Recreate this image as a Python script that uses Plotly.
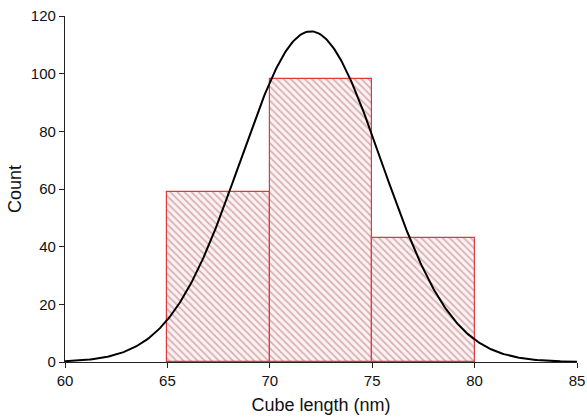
import numpy as np
import plotly.graph_objects as go

bin_starts = [65, 70, 75]
bin_width = 5
counts = [59, 98, 43]

# Gaussian fit parameters
fit_amp = 114.7
fit_mean = 72.0
fit_sigma = 3.45

x_ticks = [60, 65, 70, 75, 80, 85]
y_ticks = [0, 20, 40, 60, 80, 100, 120]

centers = [s + bin_width / 2 for s in bin_starts]
xc = np.linspace(60, 85, 400)
yc = fit_amp * np.exp(-((xc - fit_mean) ** 2) / (2 * fit_sigma ** 2))

fig = go.Figure()
fig.add_trace(go.Bar(
    x=centers, y=counts, width=bin_width,
    marker=dict(
        color="#fdf2f2",
        line=dict(color="#e0393b", width=1.2),
        pattern=dict(shape="\\", fgcolor="#b4707a", bgcolor="#fdf2f2", size=5, solidity=0.35),
    ),
    showlegend=False,
))
fig.add_trace(go.Scatter(x=xc, y=yc, mode="lines", line=dict(color="black", width=2), showlegend=False))

fig.update_layout(
    width=587, height=419,
    margin=dict(l=65, r=10, t=16, b=57, autoexpand=False),
    plot_bgcolor="white", paper_bgcolor="white",
    font=dict(family="Liberation Sans, Arial, sans-serif", size=15, color="#111"),
    bargap=0,
)
fig.update_xaxes(
    range=[60, 85], tickvals=x_ticks, showgrid=False, zeroline=False, automargin=False,
    showline=True, linecolor="#222", linewidth=1.2, ticks="outside", ticklen=5,
    tickcolor="#222", title=dict(text="Cube length (nm)", standoff=10),
)
fig.update_yaxes(
    range=[0, 120], tickvals=y_ticks, showgrid=False, zeroline=False, automargin=False,
    showline=True, linecolor="#222", linewidth=1.2, ticks="outside", ticklen=5,
    tickcolor="#222", title=dict(text="Count", standoff=4),
)
fig.write_html("out.html", config={"displayModeBar": False},
               post_script="document.body.style.margin='0';")
